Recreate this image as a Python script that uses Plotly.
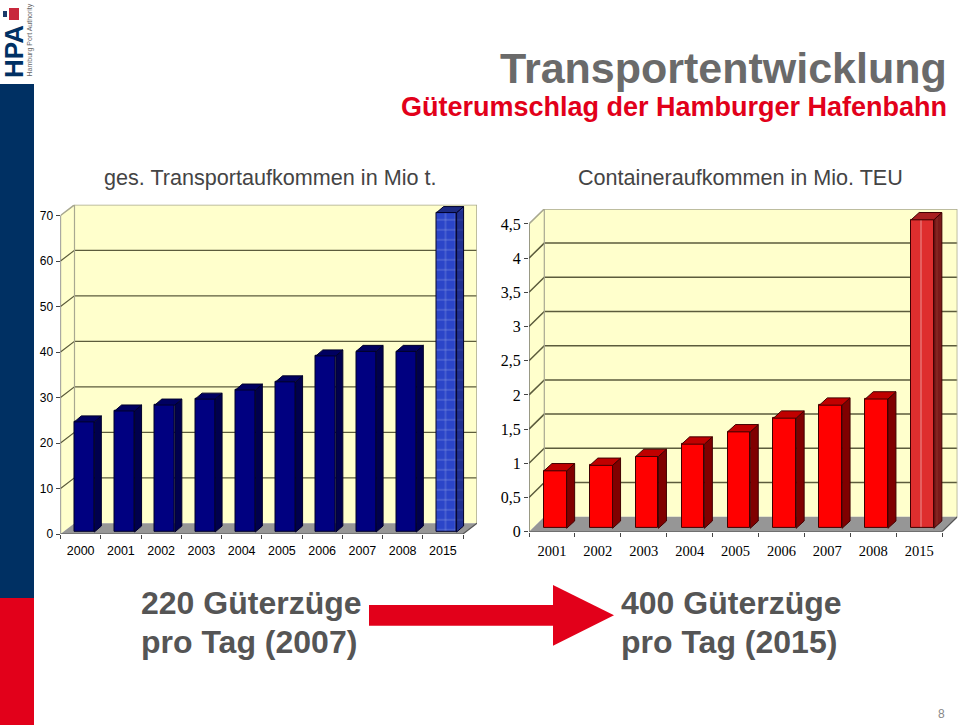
"""
Hamburg port railway freight slide, two pseudo-3D bar charts
"""

import plotly.graph_objects as go

W, H = 960, 725

YEARS_TONS = ['2000', '2001', '2002', '2003', '2004', '2005', '2006', '2007', '2008', '2015']
TONS = [24.2, 26.6, 27.9, 29.2, 31.2, 33.0, 38.7, 39.7, 39.7, 70.2]
TON_TICKS = [0, 10, 20, 30, 40, 50, 60, 70]

YEARS_TEU = ['2001', '2002', '2003', '2004', '2005', '2006', '2007', '2008', '2015']
TEU = [0.84, 0.92, 1.05, 1.23, 1.41, 1.61, 1.80, 1.89, 4.51]
TEU_TICKS = [0, 0.5, 1, 1.5, 2, 2.5, 3, 3.5, 4, 4.5]

WALL = '#FFFFCC'
FLOOR = '#969696'
GRID = '#5c5c3c'
FRAME = '#a8a890'
TEXT_GRAY = '#6a6a6a'
RED = '#E2001A'
NAVY = '#003063'


def px(x):
    return x / W


def py(y):
    return 1 - y / H


def paper_rect(x0, y0, x1, y1, color):
    return dict(type='rect', xref='paper', yref='paper', x0=px(x0), x1=px(x1),
                y0=py(y0), y1=py(y1), fillcolor=color, line_width=0, layer='below')


def add_chart(fig, shapes, n, years, values, ticks, cfg):
    """One chart: axes, wall and floor, then bars with side and top faces"""
    suffix = '' if n == 1 else str(n)
    over = str(n + 2)
    slot = cfg['slot']
    unit = cfg['unit']
    count = len(years)
    dx_wall = cfg['wall_dx'] / slot
    dy_wall = cfg['wall_dy'] / unit
    x0 = -0.5
    x1 = count - 0.5
    xmax = x1 + dx_wall
    ymax = ticks[-1] + dy_wall
    right = cfg['left'] + (xmax - x0) * slot
    top = cfg['zero'] - ymax * unit

    fig.update_layout({
        f'xaxis{suffix}': dict(
            type='category', categoryorder='array', categoryarray=years,
            domain=[px(cfg['left']), px(right)], range=[x0, xmax],
            anchor=f'y{suffix}', tickson='boundaries', ticks='outside', ticklen=4,
            tickcolor='#444444', showgrid=False, showline=False, zeroline=False,
            ticklabelstandoff=cfg['xstand'],
            tickfont=dict(family=cfg['font'], size=cfg['xsize'], color='black')),
        f'yaxis{suffix}': dict(
            domain=[py(cfg['zero']), py(top)], range=[0, ymax],
            anchor=f'x{suffix}', tickvals=ticks, ticks='outside', ticklen=4,
            tickcolor='#444444', showgrid=False, showline=False, zeroline=False,
            tickfont=dict(family=cfg['font'], size=cfg['ysize'], color='black')),
        f'xaxis{over}': dict(
            overlaying=f'x{suffix}', range=[x0, xmax], visible=False,
            anchor=f'y{suffix}', domain=[px(cfg['left']), px(right)]),
    })

    xref, yref = f'x{over}', f'y{suffix}'

    def poly(points, **kw):
        path = 'M ' + ' L '.join(f'{a},{b}' for a, b in points) + ' Z'
        shapes.append(dict(type='path', xref=xref, yref=yref, path=path, layer='below', **kw))

    def segs(points, color, width):
        path = 'M ' + ' L '.join(f'{a},{b}' for a, b in points)
        shapes.append(dict(type='path', xref=xref, yref=yref, path=path, layer='below',
                           line=dict(color=color, width=width)))

    poly([(x0 + dx_wall, dy_wall), (xmax, dy_wall), (xmax, ymax), (x0 + dx_wall, ymax)],
         fillcolor=WALL, line_width=0)
    poly([(x0, 0), (x0 + dx_wall, dy_wall), (x0 + dx_wall, ymax), (x0, ticks[-1])],
         fillcolor=WALL, line_width=0)
    poly([(x0, 0), (x1, 0), (xmax, dy_wall), (x0 + dx_wall, dy_wall)],
         fillcolor=FLOOR, line_width=0)

    # gridlines run over the side wall and along the back wall
    for t in ticks[1:-1]:
        segs([(x0, t), (x0 + dx_wall, t + dy_wall), (xmax, t + dy_wall)], GRID, cfg['grid'])
    segs([(x0, ticks[-1]), (x0 + dx_wall, ymax), (xmax, ymax), (xmax, dy_wall)], FRAME, 1.5)
    segs([(x0 + dx_wall, dy_wall), (x0 + dx_wall, ymax)], FRAME, 1.2)
    segs([(x0, ticks[-1]), (x0, 0), (x1, 0), (xmax, dy_wall)], '#555555', 1.2)

    # bars
    offset = cfg['bar_off'] / slot
    width = cfg['bar_w'] / slot
    base = cfg['lift'] / unit
    front = [cfg['front']] * (count - 1) + [cfg['front_last']]
    fig.add_trace(go.Bar(
        x=years, y=values, base=base, offset=offset, width=width,
        marker=dict(color=front, line=dict(color=cfg['edge'], width=1),
                    pattern=dict(shape=[''] * (count - 1) + [cfg['pattern']],
                                 fgcolor=cfg['pattern_color'], bgcolor=cfg['front_last'],
                                 size=cfg['pattern_size'], solidity=cfg['solidity'])),
        xaxis=f'x{suffix}', yaxis=f'y{suffix}', showlegend=False, hoverinfo='x+y'))

    dx = cfg['bar_dx'] / slot
    dy = cfg['bar_dy'] / unit
    for i, v in enumerate(values):
        last = i == count - 1
        xl = i + offset
        xr = xl + width
        yt = base + v
        side = dict(x=[xr, xr, xr + dx, xr + dx, xr], y=[base, yt, yt + dy, base + dy, base])
        cap = dict(x=[xl, xr, xr + dx, xl + dx, xl], y=[yt, yt, yt + dy, yt + dy, yt])
        side_pattern = dict(shape=cfg['pattern'], fgcolor=cfg['pattern_side'],
                            bgcolor=cfg['side_last'], size=cfg['pattern_size'],
                            solidity=cfg['solidity']) if last else None
        fig.add_trace(go.Scatter(
            **side, mode='lines', fill='toself',
            fillcolor=cfg['side_last'] if last else cfg['side'], fillpattern=side_pattern,
            line=dict(color=cfg['edge'], width=1), xaxis=xref, yaxis=yref,
            showlegend=False, hoverinfo='skip'))
        fig.add_trace(go.Scatter(
            **cap, mode='lines', fill='toself',
            fillcolor=cfg['top_last'] if last else cfg['top'],
            line=dict(color=cfg['edge'], width=1), xaxis=xref, yaxis=yref,
            showlegend=False, hoverinfo='skip'))


fig = go.Figure()
shapes = [
    paper_rect(0, 84, 34, 598, NAVY),
    paper_rect(0, 598, 34, 725, RED),
    paper_rect(369, 605, 553, 625.7, RED),
    dict(type='path', xref='paper', yref='paper', fillcolor=RED, line_width=0,
         path=f'M {px(553)},{py(585)} L {px(614)},{py(615.3)} L {px(553)},{py(645.7)} Z'),
    # crest on the logo
    paper_rect(9, 8, 19, 20, '#c8283c'),
    paper_rect(3, 11, 7, 17, '#1a3a6a'),
]

add_chart(fig, shapes, 1, YEARS_TONS, TONS, TON_TICKS, dict(
    left=60.5, zero=534, slot=40.25, unit=4.55, wall_dx=14, wall_dy=10.7,
    bar_off=-6.3, bar_w=20, bar_dx=7, bar_dy=6, lift=2,
    front='#000080', side='#00004d', top='#000060',
    front_last='#2B45C8', side_last='#1f2f90', top_last='#1c2a80',
    pattern='+', pattern_color='#a8b4e8', pattern_side='#7684c8', pattern_size=10, solidity=0.1,
    edge='#00002a', grid=1.2, font='Liberation Sans', xsize=12.5, ysize=12, xstand=7))

add_chart(fig, shapes, 2, YEARS_TEU, TEU, TEU_TICKS, dict(
    left=529, zero=531.7, slot=45.9, unit=68.4, wall_dx=15.3, wall_dy=15,
    bar_off=-8, bar_w=22.7, bar_dx=8, bar_dy=7.3, lift=3.4,
    front='#FF0000', side='#800000', top='#C00000',
    front_last='#DE2E2E', side_last='#7a1a1a', top_last='#a82020',
    pattern='|', pattern_color='#ec7060', pattern_side='#a04030', pattern_size=16, solidity=0.06,
    edge='#400000', grid=1.5, font='Liberation Sans Narrow', xsize=14.5, ysize=16, xstand=9))


def label(text, x, y, size, color, anchor='left', bold=False, angle=0, family='Liberation Sans'):
    body = f'<b>{text}</b>' if bold else text
    return dict(text=body, xref='paper', yref='paper', x=px(x), y=py(y), xanchor=anchor,
                yanchor='middle', showarrow=False, textangle=angle,
                font=dict(family=family, size=size, color=color))


annotations = [
    label('Transportentwicklung', 949, 68, 43, TEXT_GRAY, 'right', True),
    label('Güterumschlag der Hamburger Hafenbahn', 949, 107, 27, RED, 'right', True),
    label('ges. Transportaufkommen in Mio t.', 102, 177, 21.6, '#444444'),
    label('Containeraufkommen in Mio. TEU', 576, 177, 21.6, '#444444'),
    label('220 Güterzüge', 139, 603, 32, '#555555', bold=True),
    label('pro Tag (2007)', 139, 642, 32, '#555555', bold=True),
    label('400 Güterzüge', 619, 603, 32, '#555555', bold=True),
    label('pro Tag (2015)', 619, 642, 32, '#555555', bold=True),
    label('8', 941, 714, 12, '#888888', 'center'),
    label('HPA', 14.5, 51.5, 26, NAVY, 'center', True, -90),
    label('Hamburg Port Authority', 29.5, 40, 7, '#666666', 'center', False, -90),
]

fig.update_layout(
    width=W, height=H, autosize=False,
    margin=dict(l=0, r=0, t=0, b=0, autoexpand=False),
    paper_bgcolor='white', plot_bgcolor='rgba(0,0,0,0)',
    separators=',.', bargap=0, showlegend=False,
    shapes=shapes, annotations=annotations,
)

fig.write_html("out.html", config=dict(displayModeBar=False),
               post_script="document.body.style.margin='0';")
